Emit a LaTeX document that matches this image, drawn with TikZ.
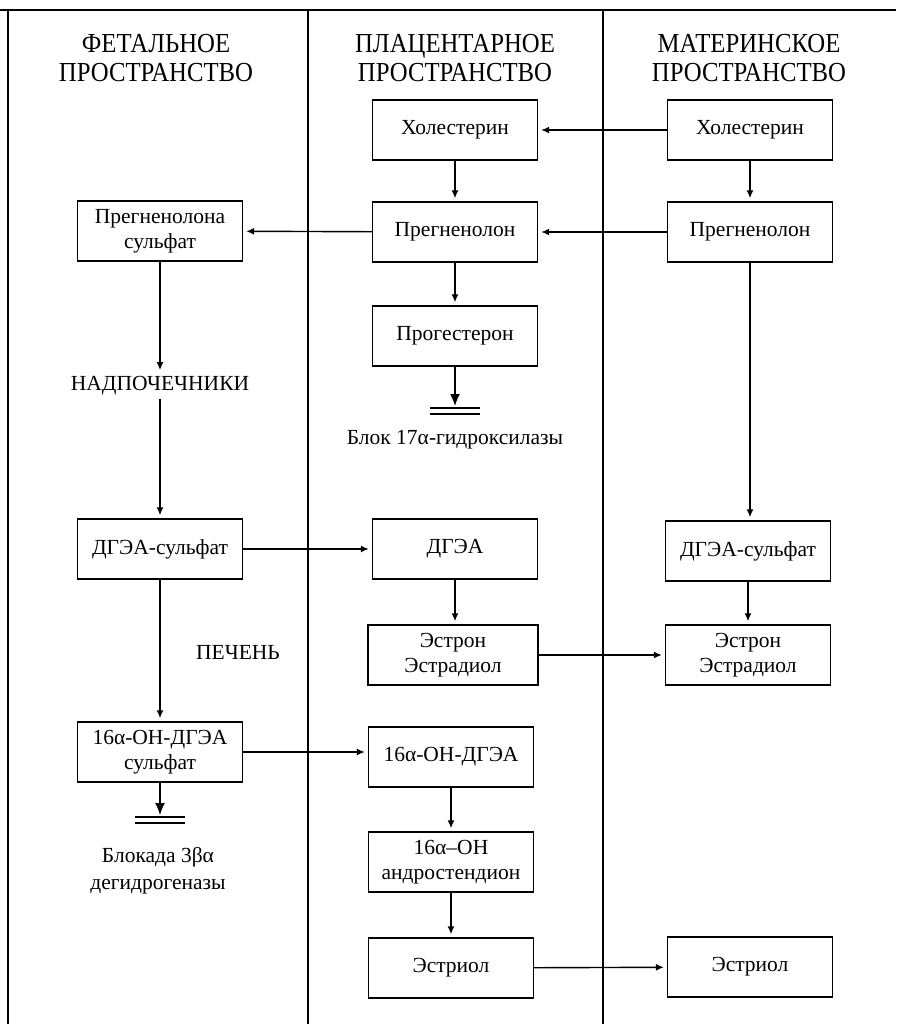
\documentclass[tikz,border=0pt]{standalone}
\usepackage{fontspec}
\setmainfont{Liberation Serif}
\newfontfamily\headfont[FakeStretch=0.9]{Liberation Serif}
\usetikzlibrary{arrows.meta}
\begin{document}
\begin{tikzpicture}[x=1pt,y=-1pt,
  box/.style={draw,line width=1.4pt,minimum width=165pt,minimum height=60pt,
    align=center,font=\fontsize{21.5}{25}\selectfont,inner sep=1pt},
  head/.style={align=center,font=\headfont\fontsize{27.5}{29}\selectfont},
  lbl/.style={align=center,font=\fontsize{21.5}{27}\selectfont},
  frame/.style={line width=1.4pt},
  conn/.style={line width=1.4pt,-{Latex[length=8pt,width=7pt]},shorten >=3pt},
  stop/.style={line width=1.4pt,-{Latex[length=12pt,width=10pt]}},
  bar/.style={line width=1.3pt}]
\useasboundingbox (0,0) rectangle (896,1024);

% column frame
\draw[frame] (0,10) -- (896,10);
\draw[frame] (8,10) -- (8,1024);
\draw[frame] (308,10) -- (308,1024);
\draw[frame] (603,10) -- (603,1024);

% column headings
\node[head] (hF) at (156,58) {ФЕТАЛЬНОЕ\\ПРОСТРАНСТВО};
\node[head] (hP) at (455,58) {ПЛАЦЕНТАРНОЕ\\ПРОСТРАНСТВО};
\node[head] (hM) at (749,58) {МАТЕРИНСКОЕ\\ПРОСТРАНСТВО};

% placental column
\node[box] (chP)  at (455,130) {Холестерин};
\node[box] (prP)  at (455,232) {Прегненолон};
\node[box] (progP) at (455,336) {Прогестерон};
\node[box] (dP)   at (455,549) {ДГЭА};
\node[box,minimum width=170pt] (eeP) at (453,655) {Эстрон\\Эстрадиол};
\node[box] (ohP)  at (451,757) {16α-ОН-ДГЭА};
\node[box] (andP) at (451,862) {16α–ОН\\андростендион};
\node[box] (esP)  at (451,968) {Эстриол};

% maternal column
\node[box] (chM)  at (750,130) {Холестерин};
\node[box] (prM)  at (750,232) {Прегненолон};
\node[box] (dsM)  at (748,551) {ДГЭА-сульфат};
\node[box] (eeM)  at (748,655) {Эстрон\\Эстрадиол};
\node[box] (esM)  at (750,967) {Эстриол};

% fetal column
\node[box] (psF)  at (160,231) {Прегненолона\\сульфат};
\node[lbl] (adr)  at (160,386) {НАДПОЧЕЧНИКИ};
\node[box] (dsF)  at (160,549) {ДГЭА-сульфат};
\node[lbl] (liv)  at (238,652) {ПЕЧЕНЬ};
\node[box] (ohF)  at (160,752) {16α-ОН-ДГЭА\\сульфат};

% enzyme blocks
\coordinate (bP) at (455,406);
\draw[bar] (430,408) -- (480,408) (430,414) -- (480,414);
\node[lbl] (blkP) at (455,440) {Блок 17α-гидроксилазы};
\coordinate (bF) at (160,815);
\draw[bar] (135,817) -- (185,817) (135,823) -- (185,823);
\node[lbl] (blkF) at (158,871) {Блокада 3βα\\дегидрогеназы};

% placental pathway
\draw[conn] (chP) -- (prP);
\draw[conn] (prP) -- (progP);
\draw[stop] (progP) -- (bP);
\draw[conn] (dP) -- (eeP.north -| dP);
\draw[conn] (ohP) -- (andP);
\draw[conn] (andP) -- (esP);

% maternal pathway
\draw[conn] (chM) -- (prM);
\draw[conn] (prM) -- (dsM.north -| prM);
\draw[conn] (dsM) -- (eeM);

% fetal pathway
\draw[conn] (psF) -- (adr.north);
\draw[conn] (adr.south) -- (dsF);
\draw[conn] (dsF) -- (ohF);
\draw[stop] (ohF) -- (bF);

% exchange between spaces
\draw[conn] (chM) -- (chP);
\draw[conn] (prM) -- (prP);
\draw[conn] (prP) -- (psF);
\draw[conn] (dsF) -- (dP);
\draw[conn] (eeP) -- (eeM);
\draw[conn] (ohF.east) -- (ohF.east -| ohP.west);
\draw[conn] (esP) -- (esM);
\end{tikzpicture}
\end{document}
